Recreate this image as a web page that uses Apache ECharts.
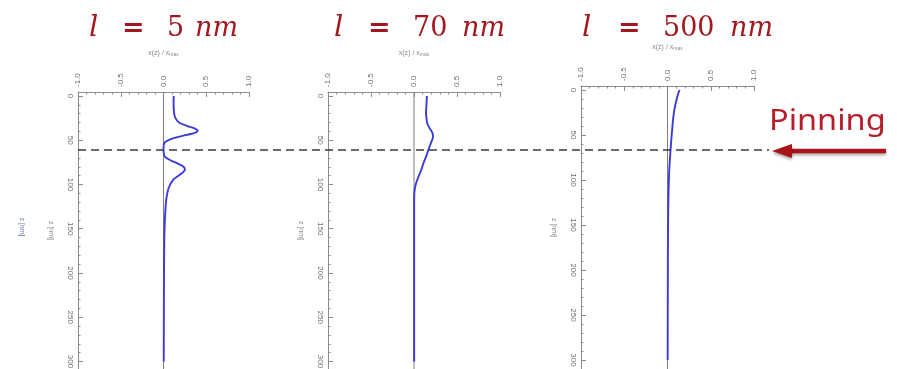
<!DOCTYPE html>
<html>
<head>
<meta charset="utf-8">
<script src="https://cdn.jsdelivr.net/npm/echarts@6/dist/echarts.min.js"></script>
<style>
  html, body { margin: 0; padding: 0; background: #ffffff; }
  #chart { width: 897px; height: 369px; }
</style>
</head>
<body>
<div id="chart"></div>
<script>
// Normalised displacement x(z)/x_max versus depth z for three correlation lengths l
const lengths = ['5', '70', '500'];

const depth1 = [0, 5, 10, 15, 20, 25, 30, 34, 37, 39, 41, 44, 48, 53, 59, 64, 68, 71, 74, 77, 80, 83, 86, 89, 95, 104, 115, 125, 140, 160, 200, 250, 300];
const disp1  = [0.12, 0.118, 0.118, 0.12, 0.125, 0.14, 0.18, 0.28, 0.37, 0.40, 0.38, 0.27, 0.11, 0.01, 0.0, 0.003, 0.012, 0.05, 0.11, 0.18, 0.235, 0.25, 0.23, 0.19, 0.11, 0.06, 0.035, 0.025, 0.016, 0.01, 0.006, 0.004, 0.003];

const depth2 = [0, 10, 19, 25, 31, 36, 40, 44, 47, 51, 55, 63, 70, 76, 82, 87, 93, 99, 105, 110, 120, 140, 170, 200, 250, 300];
const disp2  = [0.15, 0.145, 0.14, 0.145, 0.155, 0.18, 0.205, 0.22, 0.22, 0.205, 0.19, 0.16, 0.135, 0.11, 0.09, 0.07, 0.045, 0.023, 0.01, 0.004, 0.002, 0.002, 0.002, 0.002, 0.002, 0.002];

const depth3 = [0, 5, 11, 18, 26, 35, 44, 55, 67, 78, 89, 100, 115, 130, 150, 175, 200, 250, 300];
const disp3  = [0.14, 0.12, 0.104, 0.087, 0.073, 0.062, 0.054, 0.044, 0.035, 0.027, 0.02, 0.016, 0.012, 0.009, 0.007, 0.005, 0.004, 0.003, 0.002];

const xTicks = [-1, -0.5, 0, 0.5, 1];
const zTicks = [0, 50, 100, 150, 200, 250, 300];
const zMinorTicks = [10, 20, 30, 40, 60, 70, 80, 90, 110, 120, 130, 140, 160, 170, 180, 190, 210, 220, 230, 240, 260, 270, 280, 290];

const pinningDepth = 61;

const profiles = [
  { depth: depth1, disp: disp1 },
  { depth: depth2, disp: disp2 },
  { depth: depth3, disp: disp3 }
];

// panel placement
const panels = [
  { left: 78,  width: 171, top: 92, height: 277, zMin: -4.5,  zMax: 308.5 },
  { left: 328, width: 172, top: 92, height: 277, zMin: -4.5,  zMax: 308.5 },
  { left: 581, width: 173, top: 86, height: 283, zMin: -4.44, zMax: 310 }
];

const AXIS_GRAY = '#8c8c8c';
const LABEL_GRAY = '#6e6e6e';
const CURVE = '#3b3bdc';
const TITLE_RED = '#a3181e';

const grids = [], xAxes = [], yAxes = [], series = [];
const n = panels.length;

// plotting grids (0..n-1)
panels.forEach((p, i) => {
  grids.push({
    left: p.left, top: p.top, width: p.width, height: p.height,
    containLabel: false, outerBoundsMode: 'none'
  });

  xAxes.push({
    type: 'value', gridIndex: i, position: 'top',
    min: xTicks[0], max: xTicks[xTicks.length - 1], interval: 0.5,
    name: '{a|x(z) / x}{s|max}',
    nameLocation: 'middle', nameGap: 35,
    nameTextStyle: {
      rich: {
        a: { fontSize: 7, color: '#8a8a8a', fontFamily: 'Liberation Sans' },
        s: { fontSize: 5, color: '#8a8a8a', fontFamily: 'Liberation Sans', verticalAlign: 'bottom', padding: [3, 0, 0, 0] }
      }
    },
    axisLine: { show: true, onZero: false, lineStyle: { color: AXIS_GRAY, width: 1 } },
    axisTick: { show: true, inside: true, length: 5, lineStyle: { color: AXIS_GRAY } },
    minorTick: { show: true, splitNumber: 5, length: 2.5, lineStyle: { color: AXIS_GRAY } },
    axisLabel: {
      rotate: -90, margin: 5, fontSize: 8, color: LABEL_GRAY, fontFamily: 'Liberation Sans',
      formatter: v => v.toFixed(1)
    },
    splitLine: { show: false }
  });

  yAxes.push({
    type: 'value', gridIndex: i, position: 'left', inverse: true,
    min: p.zMin, max: p.zMax,
    name: 'z [nm]', nameLocation: 'middle', nameRotate: -90, nameGap: 24,
    nameTextStyle: { fontSize: 7, color: '#8a8a8a', fontFamily: 'Liberation Sans' },
    axisLine: { show: true, onZero: false, lineStyle: { color: AXIS_GRAY, width: 1 } },
    axisTick: { show: true, inside: true, length: 5, customValues: zTicks, lineStyle: { color: AXIS_GRAY } },
    axisLabel: {
      rotate: -90, margin: 4, fontSize: 8, color: LABEL_GRAY, fontFamily: 'Liberation Sans',
      customValues: zTicks, showMinLabel: true, showMaxLabel: true
    },
    splitLine: { show: false }
  });

  // zero reference line x = 0
  series.push({
    type: 'line', xAxisIndex: i, yAxisIndex: i,
    data: [[0, p.zMin], [0, p.zMax]],
    showSymbol: false, symbol: 'none', silent: true,
    lineStyle: { color: '#7d7d7d', width: 1 },
    z: 1
  });

  const prof = profiles[i];
  series.push({
    type: 'line', xAxisIndex: i, yAxisIndex: i,
    data: prof.depth.map((z, k) => [prof.disp[k], z]),
    smooth: 0.35, showSymbol: false, symbol: 'none',
    lineStyle: { color: CURVE, width: 1.9 },
    z: 3
  });
});

// overlay grids (n..2n-1) carrying the minor depth ticks
panels.forEach((p, i) => {
  grids.push({
    left: p.left, top: p.top, width: p.width, height: p.height,
    containLabel: false, outerBoundsMode: 'none'
  });
  xAxes.push({ type: 'value', gridIndex: n + i, show: false, min: -1, max: 1 });
  yAxes.push({
    type: 'value', gridIndex: n + i, position: 'left', inverse: true,
    min: p.zMin, max: p.zMax,
    axisLine: { show: false, onZero: false },
    axisTick: { show: true, inside: true, length: 2.5, customValues: zMinorTicks, lineStyle: { color: AXIS_GRAY } },
    axisLabel: { show: false },
    splitLine: { show: false }
  });
});

const chart = echarts.init(document.getElementById('chart'), null, { renderer: 'canvas' });
chart.setOption({
  animation: false,
  backgroundColor: '#ffffff',
  grid: grids, xAxis: xAxes, yAxis: yAxes, series: series
});

// titles: "l = N nm"
const titleX = [
  { l: 89,  eq: 122, num: 167, nm: 195 },
  { l: 334, eq: 368, num: 413, nm: 462 },
  { l: 582, eq: 618, num: 663, nm: 730 }
];
const titleGraphics = [];
lengths.forEach((len, i) => {
  const t = titleX[i];
  const base = { fill: TITLE_RED, fontSize: 27, fontFamily: 'DejaVu Serif', verticalAlign: 'middle' };
  titleGraphics.push(
    { type: 'text', left: t.l, top: 14, style: Object.assign({}, base, { text: 'l', fontStyle: 'italic', fontSize: 29 }) },
    { type: 'text', x: t.eq, y: 29, style: Object.assign({}, base, { text: '=', fontWeight: 'bold', align: 'left' }) },
    { type: 'text', x: t.num, y: 29, style: Object.assign({}, base, { text: len, align: 'left' }) },
    { type: 'text', x: t.nm, y: 29, style: Object.assign({}, base, { text: 'nm', fontStyle: 'italic', align: 'left' }) }
  );
});

// pinning depth line across all panels
const pinY = chart.convertToPixel({ gridIndex: 0 }, [0, pinningDepth])[1];

chart.setOption({
  graphic: titleGraphics.concat([
    {
      type: 'text', x: 22, y: 227, rotation: -Math.PI / 2,
      style: { text: 'z [nm]', fontSize: 7, fill: '#6f82a8', fontFamily: 'Liberation Sans', align: 'center', verticalAlign: 'middle' }
    },
    {
      type: 'line', z: 10,
      shape: { x1: 78, y1: pinY, x2: 769, y2: pinY },
      style: { stroke: '#3a3a3a', lineWidth: 1.5, lineDash: [8, 5] }
    },
    {
      type: 'text', x: 769, y: 122, scaleX: 1.12, z: 10,
      style: { text: 'Pinning', fontSize: 29, fontFamily: 'Noto Sans', fill: '#b61f29', align: 'left', verticalAlign: 'middle' }
    },
    {
      type: 'group', z: 10,
      children: [
        {
          type: 'line',
          shape: { x1: 886, y1: pinY + 1, x2: 788, y2: pinY + 1 },
          style: { stroke: '#a8141a', lineWidth: 4.5, shadowBlur: 3, shadowColor: 'rgba(0,0,0,0.35)', shadowOffsetY: 2 }
        },
        {
          type: 'polygon',
          shape: { points: [[772, pinY + 1], [792, pinY - 6], [792, pinY + 8]] },
          style: { fill: '#a8141a', shadowBlur: 3, shadowColor: 'rgba(0,0,0,0.35)', shadowOffsetY: 2 }
        }
      ]
    }
  ])
});
</script>
</body>
</html>
